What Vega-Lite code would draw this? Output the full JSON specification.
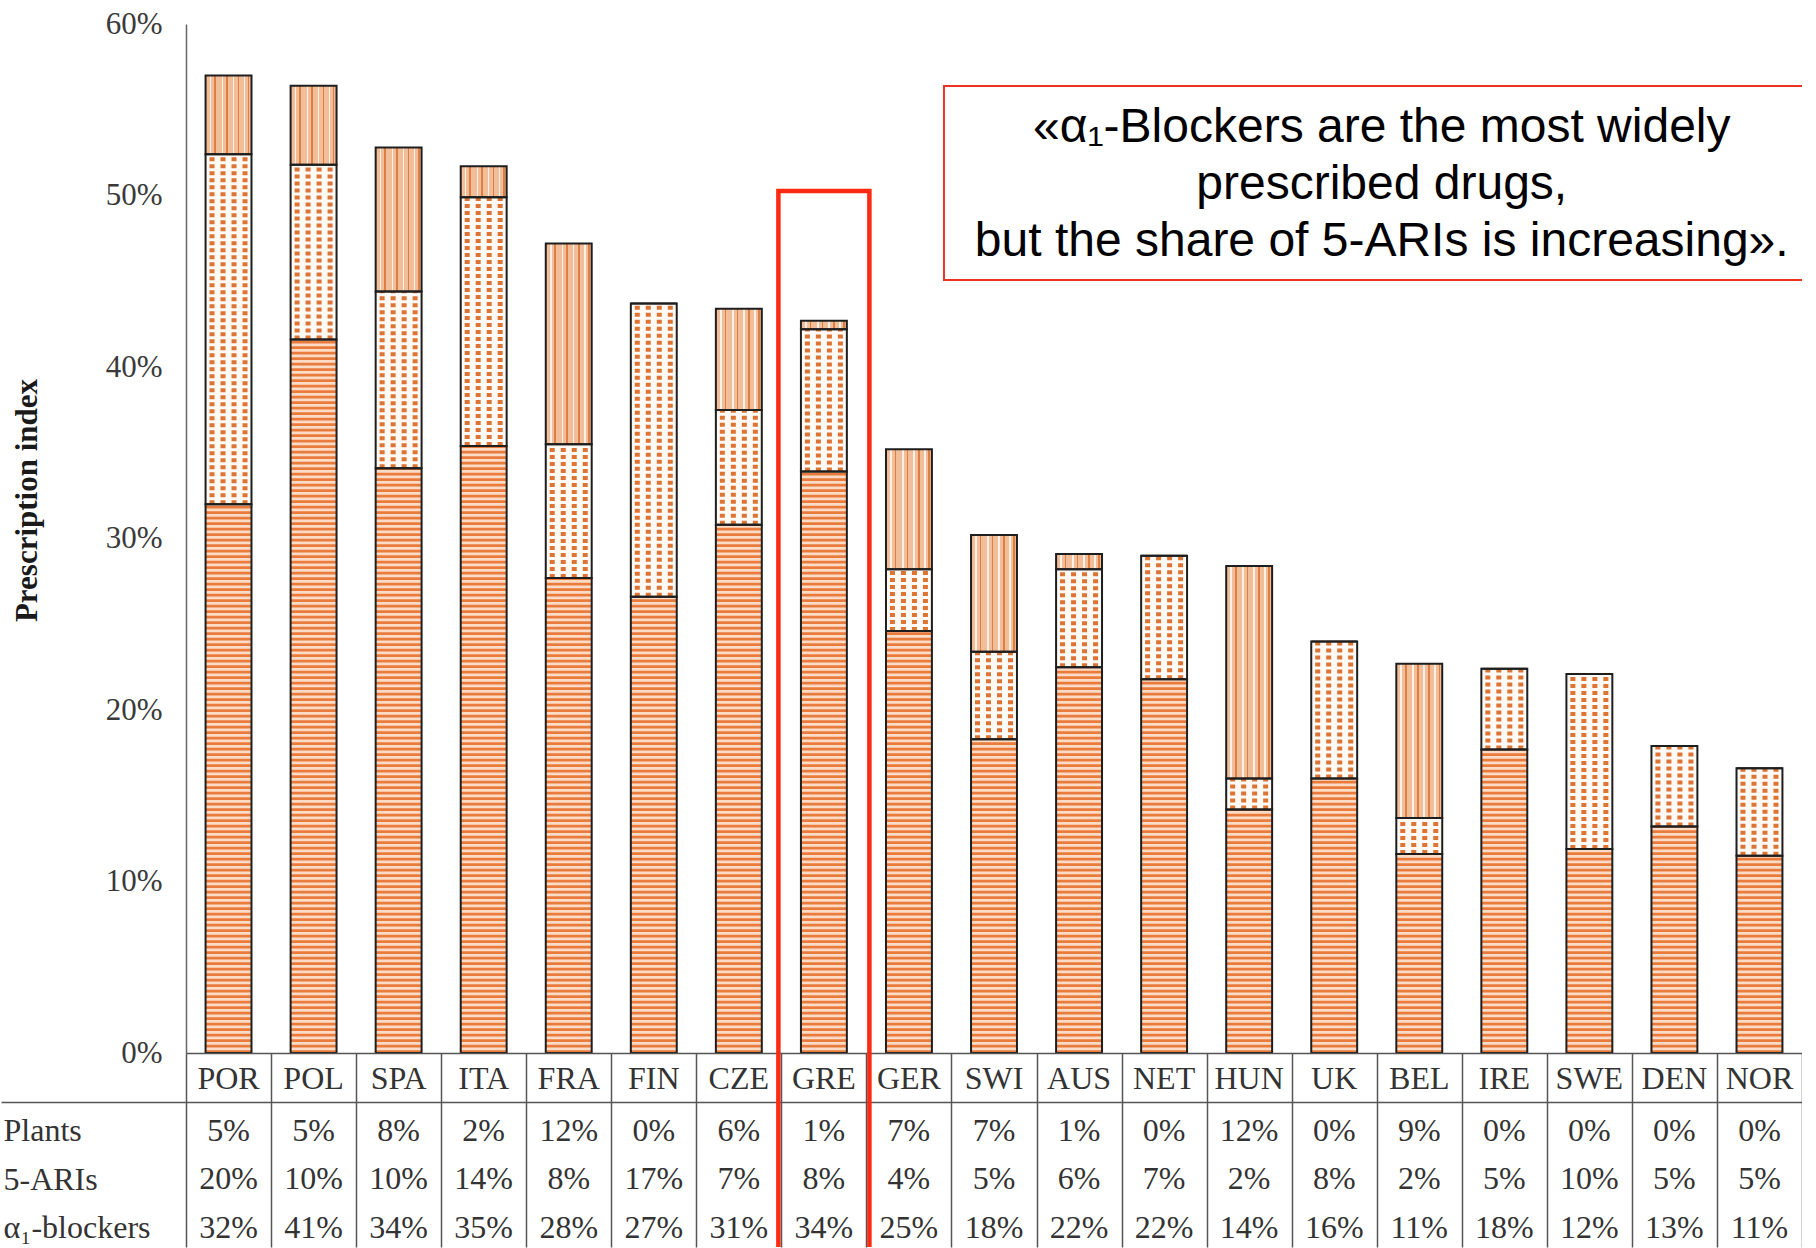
{
  "$schema": "https://vega.github.io/schema/vega-lite/v6.json",
  "background": "white",
  "padding": {"left": 0, "top": 8, "right": 0, "bottom": 0},
  "spacing": 0,
  "bounds": "flush",
  "config": {"view": {"stroke": null}},
  "datasets": {
    "bars": [
      {"country": "POR", "alpha": 0.320, "ari": 0.204, "plants": 0.046},
      {"country": "POL", "alpha": 0.416, "ari": 0.102, "plants": 0.046},
      {"country": "SPA", "alpha": 0.341, "ari": 0.103, "plants": 0.084},
      {"country": "ITA", "alpha": 0.354, "ari": 0.145, "plants": 0.018},
      {"country": "FRA", "alpha": 0.277, "ari": 0.078, "plants": 0.117},
      {"country": "FIN", "alpha": 0.266, "ari": 0.171, "plants": 0.0},
      {"country": "CZE", "alpha": 0.308, "ari": 0.067, "plants": 0.059},
      {"country": "GRE", "alpha": 0.339, "ari": 0.083, "plants": 0.005},
      {"country": "GER", "alpha": 0.246, "ari": 0.036, "plants": 0.070},
      {"country": "SWI", "alpha": 0.183, "ari": 0.051, "plants": 0.068},
      {"country": "AUS", "alpha": 0.225, "ari": 0.057, "plants": 0.009},
      {"country": "NET", "alpha": 0.218, "ari": 0.072, "plants": 0.0},
      {"country": "HUN", "alpha": 0.142, "ari": 0.018, "plants": 0.124},
      {"country": "UK", "alpha": 0.160, "ari": 0.080, "plants": 0.0},
      {"country": "BEL", "alpha": 0.116, "ari": 0.021, "plants": 0.090},
      {"country": "IRE", "alpha": 0.177, "ari": 0.047, "plants": 0.0},
      {"country": "SWE", "alpha": 0.119, "ari": 0.102, "plants": 0.0},
      {"country": "DEN", "alpha": 0.132, "ari": 0.047, "plants": 0.0},
      {"country": "NOR", "alpha": 0.115, "ari": 0.051, "plants": 0.0}
    ],
    "table": [
      {"country": "POR", "plants": "5%", "ari": "20%", "alpha": "32%"},
      {"country": "POL", "plants": "5%", "ari": "10%", "alpha": "41%"},
      {"country": "SPA", "plants": "8%", "ari": "10%", "alpha": "34%"},
      {"country": "ITA", "plants": "2%", "ari": "14%", "alpha": "35%"},
      {"country": "FRA", "plants": "12%", "ari": "8%", "alpha": "28%"},
      {"country": "FIN", "plants": "0%", "ari": "17%", "alpha": "27%"},
      {"country": "CZE", "plants": "6%", "ari": "7%", "alpha": "31%"},
      {"country": "GRE", "plants": "1%", "ari": "8%", "alpha": "34%"},
      {"country": "GER", "plants": "7%", "ari": "4%", "alpha": "25%"},
      {"country": "SWI", "plants": "7%", "ari": "5%", "alpha": "18%"},
      {"country": "AUS", "plants": "1%", "ari": "6%", "alpha": "22%"},
      {"country": "NET", "plants": "0%", "ari": "7%", "alpha": "22%"},
      {"country": "HUN", "plants": "12%", "ari": "2%", "alpha": "14%"},
      {"country": "UK", "plants": "0%", "ari": "8%", "alpha": "16%"},
      {"country": "BEL", "plants": "9%", "ari": "2%", "alpha": "11%"},
      {"country": "IRE", "plants": "0%", "ari": "5%", "alpha": "18%"},
      {"country": "SWE", "plants": "0%", "ari": "10%", "alpha": "12%"},
      {"country": "DEN", "plants": "0%", "ari": "5%", "alpha": "13%"},
      {"country": "NOR", "plants": "0%", "ari": "5%", "alpha": "11%"}
    ]
  },
  "vconcat": [
    {
      "width": 1616,
      "height": 1029,
      "data": {"name": "bars"},
      "transform": [
        {"fold": ["alpha", "ari", "plants"], "as": ["drug", "value"]},
        {"stack": "value", "groupby": ["country"], "as": ["v0", "v1"]}
      ],
      "layer": [
        {
          "transform": [{"filter": "datum.drug === 'alpha'"}],
          "mark": {"type": "bar", "width": {"band": 0.54}, "fill": "#fcdcc6", "stroke": null},
          "encoding": {
            "x": {"field": "country", "type": "nominal", "scale": {"domain": ["POR","POL","SPA","ITA","FRA","FIN","CZE","GRE","GER","SWI","AUS","NET","HUN","UK","BEL","IRE","SWE","DEN","NOR"], "paddingInner": 0, "paddingOuter": 0}, "axis": null},
            "y": {"field": "v0", "type": "quantitative", "scale": {"domain": [0, 0.6], "nice": false},
              "axis": {"title": "Prescription index", "format": ".0%", "values": [0, 0.1, 0.2, 0.3, 0.4, 0.5, 0.6], "grid": false, "ticks": false,
                "domainColor": "#666", "domainWidth": 1.5, "labelFont": "Liberation Serif", "labelFontSize": 31, "labelColor": "#3a3a3a", "labelPadding": 24,
                "titleFont": "Liberation Serif", "titleFontSize": 31, "titleFontWeight": "bold", "titleColor": "#1a1a1a", "titleX": -159, "titleY": 476, "titleAngle": -90, "titleAlign": "center", "titleBaseline": "middle"}},
            "y2": {"field": "v1"}
          }
        },
        {
          "transform": [{"filter": "datum.drug === 'alpha'"}],
          "mark": {"type": "rule", "strokeWidth": 46, "color": "#e97c3c", "strokeDash": [2.8, 2.7], "strokeCap": "butt"},
          "encoding": {
            "x": {"field": "country", "type": "nominal"},
            "y": {"field": "v0", "type": "quantitative", "scale": {"domain": [0, 0.6], "nice": false}},
            "y2": {"field": "v1"}
          }
        },
        {
          "transform": [{"filter": "datum.drug === 'ari'"}],
          "mark": {"type": "bar", "width": {"band": 0.54}, "fill": "#fffaf6", "stroke": null},
          "encoding": {
            "x": {"field": "country", "type": "nominal"},
            "y": {"field": "v0", "type": "quantitative", "scale": {"domain": [0, 0.6], "nice": false}},
            "y2": {"field": "v1"}
          }
        },
        {
          "transform": [{"filter": "datum.drug === 'ari'"}],
          "mark": {"type": "rule", "strokeWidth": 5, "color": "#dd7434", "strokeDash": [4, 3], "strokeCap": "butt", "xOffset": -16.5},
          "encoding": {
            "x": {"field": "country", "type": "nominal"},
            "y": {"field": "v0", "type": "quantitative", "scale": {"domain": [0, 0.6], "nice": false}},
            "y2": {"field": "v1"}
          }
        },
        {
          "transform": [{"filter": "datum.drug === 'ari'"}],
          "mark": {"type": "rule", "strokeWidth": 5, "color": "#dd7434", "strokeDash": [4, 3], "strokeCap": "butt", "xOffset": -5.5},
          "encoding": {
            "x": {"field": "country", "type": "nominal"},
            "y": {"field": "v0", "type": "quantitative", "scale": {"domain": [0, 0.6], "nice": false}},
            "y2": {"field": "v1"}
          }
        },
        {
          "transform": [{"filter": "datum.drug === 'ari'"}],
          "mark": {"type": "rule", "strokeWidth": 5, "color": "#dd7434", "strokeDash": [4, 3], "strokeCap": "butt", "xOffset": 5.5},
          "encoding": {
            "x": {"field": "country", "type": "nominal"},
            "y": {"field": "v0", "type": "quantitative", "scale": {"domain": [0, 0.6], "nice": false}},
            "y2": {"field": "v1"}
          }
        },
        {
          "transform": [{"filter": "datum.drug === 'ari'"}],
          "mark": {"type": "rule", "strokeWidth": 5, "color": "#dd7434", "strokeDash": [4, 3], "strokeCap": "butt", "xOffset": 16.5},
          "encoding": {
            "x": {"field": "country", "type": "nominal"},
            "y": {"field": "v0", "type": "quantitative", "scale": {"domain": [0, 0.6], "nice": false}},
            "y2": {"field": "v1"}
          }
        },
        {
          "transform": [{"filter": "datum.drug === 'plants' && datum.value > 0"}],
          "mark": {"type": "bar", "width": {"band": 0.54}, "stroke": null,
            "fill": {"gradient": "linear", "x1": 0, "y1": 0, "x2": 1, "y2": 0, "stops": [
              {"offset": 0, "color": "#f2bd99"}, {"offset": 0.09, "color": "#f2bd99"},
              {"offset": 0.09, "color": "#fdf0e6"}, {"offset": 0.125, "color": "#fdf0e6"},
              {"offset": 0.125, "color": "#f2bd99"}, {"offset": 0.19, "color": "#f2bd99"},
              {"offset": 0.19, "color": "#dd7e42"}, {"offset": 0.225, "color": "#dd7e42"},
              {"offset": 0.225, "color": "#f2bd99"}, {"offset": 0.35, "color": "#f2bd99"},
              {"offset": 0.35, "color": "#fdf0e6"}, {"offset": 0.385, "color": "#fdf0e6"},
              {"offset": 0.385, "color": "#f2bd99"}, {"offset": 0.45, "color": "#f2bd99"},
              {"offset": 0.45, "color": "#dd7e42"}, {"offset": 0.485, "color": "#dd7e42"},
              {"offset": 0.485, "color": "#f2bd99"}, {"offset": 0.59, "color": "#f2bd99"},
              {"offset": 0.59, "color": "#fdf0e6"}, {"offset": 0.625, "color": "#fdf0e6"},
              {"offset": 0.625, "color": "#f2bd99"}, {"offset": 0.7, "color": "#f2bd99"},
              {"offset": 0.7, "color": "#dd7e42"}, {"offset": 0.735, "color": "#dd7e42"},
              {"offset": 0.735, "color": "#f2bd99"}, {"offset": 0.83, "color": "#f2bd99"},
              {"offset": 0.83, "color": "#fdf0e6"}, {"offset": 0.865, "color": "#fdf0e6"},
              {"offset": 0.865, "color": "#f2bd99"}, {"offset": 0.92, "color": "#f2bd99"},
              {"offset": 0.92, "color": "#dd7e42"}, {"offset": 0.955, "color": "#dd7e42"},
              {"offset": 0.955, "color": "#f2bd99"}, {"offset": 1, "color": "#f2bd99"}
            ]}},
          "encoding": {
            "x": {"field": "country", "type": "nominal"},
            "y": {"field": "v0", "type": "quantitative", "scale": {"domain": [0, 0.6], "nice": false}},
            "y2": {"field": "v1"}
          }
        },
        {
          "mark": {"type": "bar", "width": {"band": 0.54}, "fill": "#ffffff", "fillOpacity": 0, "stroke": "#1e1e1e", "strokeWidth": 2},
          "encoding": {
            "x": {"field": "country", "type": "nominal"},
            "y": {"field": "v0", "type": "quantitative", "scale": {"domain": [0, 0.6], "nice": false}},
            "y2": {"field": "v1"}
          }
        },
        {
          "data": {"values": [{"country": "GRE"}]},
          "mark": {"type": "bar", "width": {"band": 1.07}, "fill": "#ffffff", "fillOpacity": 0, "stroke": "#ff2a12", "strokeWidth": 4.5, "clip": true},
          "encoding": {
            "x": {"field": "country", "type": "nominal"},
            "y": {"datum": 0.5026, "type": "quantitative", "scale": {"domain": [0, 0.6], "nice": false}},
            "y2": {"datum": -0.1}
          }
        },
        {
          "data": {"values": [{"note": "«α₁-Blockers are the most widely\nprescribed drugs,\nbut the share of 5-ARIs is increasing»."}]},
          "mark": {"type": "rect", "fill": "#ffffff", "fillOpacity": 0, "stroke": "#ee3322", "strokeWidth": 2, "clip": true, "xOffset": -7.5, "x2Offset": 200},
          "encoding": {
            "x": {"datum": "SWI", "type": "nominal", "bandPosition": 0},
            "x2": {"datum": "NOR"},
            "y": {"datum": 0.5639, "type": "quantitative", "scale": {"domain": [0, 0.6], "nice": false}},
            "y2": {"datum": 0.4507}
          }
        },
        {
          "data": {"values": [{"note": "«α₁-Blockers are the most widely\nprescribed drugs,\nbut the share of 5-ARIs is increasing»."}]},
          "mark": {"type": "text", "font": "Liberation Sans", "fontSize": 48, "lineHeight": 57, "lineBreak": "\n", "align": "center", "baseline": "middle", "color": "#000000", "dx": 5},
          "encoding": {
            "x": {"datum": "BEL", "type": "nominal", "bandPosition": 0},
            "y": {"datum": 0.5394, "type": "quantitative", "scale": {"domain": [0, 0.6], "nice": false}},
            "text": {"field": "note", "type": "nominal"}
          }
        }
      ]
    },
    {
      "width": 1616,
      "height": 194,
      "data": {"name": "table"},
      "layer": [
        {
          "transform": [{"fold": ["plants", "ari", "alpha"], "as": ["row", "label"]}],
          "mark": {"type": "text", "font": "Liberation Serif", "fontSize": 32, "color": "#333333", "baseline": "middle", "dy": 5},
          "encoding": {
            "x": {"field": "country", "type": "nominal",
              "scale": {"domain": ["POR","POL","SPA","ITA","FRA","FIN","CZE","GRE","GER","SWI","AUS","NET","HUN","UK","BEL","IRE","SWE","DEN","NOR"], "paddingInner": 0, "paddingOuter": 0},
              "axis": {"title": null, "labels": false, "ticks": false, "domain": false, "grid": true, "tickBand": "extent", "gridColor": "#555555", "gridWidth": 1.5}},
            "y": {"field": "row", "type": "nominal",
              "scale": {"domain": ["hdr", "plants", "ari", "alpha"], "paddingInner": 0, "paddingOuter": 0},
              "axis": {"title": null, "orient": "left", "domain": false, "tickBand": "extent", "tickSize": 185, "tickWidth": 1.5,
                "tickColor": {"condition": {"test": "datum.value === 'hdr' && !datum.extra", "value": "#555555"}, "value": "transparent"},
                "grid": true, "gridWidth": 1.5,
                "gridColor": {"condition": {"test": "datum.value === 'hdr' || datum.extra", "value": "#555555"}, "value": "transparent"},
                "labelAlign": "left", "labelPadding": -2, "labelBaseline": "middle", "labelOffset": 5,
                "labelExpr": "datum.extra ? '' : datum.value === 'plants' ? 'Plants' : datum.value === 'ari' ? '5-ARIs' : datum.value === 'alpha' ? 'α₁-blockers' : ''",
                "labelFont": "Liberation Serif", "labelFontSize": 32, "labelColor": "#333333"}},
            "text": {"field": "label", "type": "nominal"}
          }
        },
        {
          "mark": {"type": "text", "font": "Liberation Serif", "fontSize": 32, "color": "#333333", "baseline": "middle", "dy": 2},
          "encoding": {
            "x": {"field": "country", "type": "nominal"},
            "y": {"datum": "hdr", "type": "nominal"},
            "text": {"field": "country", "type": "nominal"}
          }
        },
        {
          "data": {"values": [{"country": "GRE"}]},
          "mark": {"type": "rule", "color": "#ff2a12", "strokeWidth": 4.5, "xOffset": -3},
          "encoding": {"x": {"field": "country", "type": "nominal", "bandPosition": 0}}
        },
        {
          "data": {"values": [{"country": "GRE"}]},
          "mark": {"type": "rule", "color": "#ff2a12", "strokeWidth": 4.5, "xOffset": 3},
          "encoding": {"x": {"field": "country", "type": "nominal", "bandPosition": 1}}
        }
      ]
    }
  ]
}
